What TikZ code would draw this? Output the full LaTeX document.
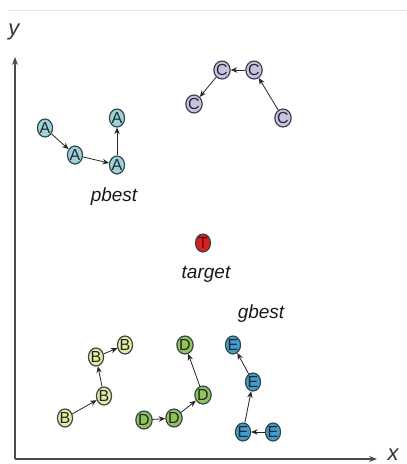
\documentclass[tikz,border=0pt]{standalone}
\usepackage{fontspec}
\setmainfont{Liberation Sans}
\usetikzlibrary{arrows.meta,shapes.geometric}
\definecolor{colA}{HTML}{9AD3DA}
\definecolor{colB}{HTML}{E4EDA2}
\definecolor{colC}{HTML}{C9C2E2}
\definecolor{colD}{HTML}{92C25C}
\definecolor{colE}{HTML}{3E9ECF}
\definecolor{colT}{HTML}{D8201E}
\definecolor{edgecol}{HTML}{34464A}
\begin{document}
\begin{tikzpicture}[x=1pt,y=-1pt,
  particle/.style={ellipse,draw=edgecol,line width=1.2pt,inner sep=0pt,
    minimum width=15pt,minimum height=18pt,text=black!85,
    font=\fontsize{16}{16}\selectfont},
  pa/.style={particle,fill=colA},
  pb/.style={particle,fill=colB},
  pc/.style={particle,fill=colC},
  pd/.style={particle,fill=colD},
  pe/.style={particle,fill=colE},
  pt/.style={particle,fill=colT,text=black!60!colT},
  move/.style={-{Stealth[length=6.5pt,width=5.5pt]},line width=0.8pt,draw=black!85},
  axis/.style={-{Stealth[length=8pt,width=6pt]},line width=1.1pt,draw=black!70},
  lbl/.style={font=\fontsize{19}{20}\selectfont\itshape,text=black!90},
  axlbl/.style={font=\fontsize{22}{22}\selectfont\itshape,text=black!80}]
\useasboundingbox (0,0) rectangle (407,464);
\coordinate (tl) at (8,10);
\coordinate (tr) at (407,10);
\draw[black!12,line width=0.8pt] (tl) -- (tr);
% axes
\coordinate (O) at (15,459);
\coordinate (Y) at (15,57);
\coordinate (X) at (377,459);
\draw[axis] (O) -- (Y);
\draw[axis] (O) -- (X);
\node[axlbl] (ylab) at (14,32) {y};
\node[axlbl] (xlab) at (393,455) {x};
% A
\node[pa] (A1) at (45,128) {A};
\node[pa] (A2) at (75,155) {A};
\node[pa] (A3) at (117,165) {A};
\node[pa] (A4) at (117,118) {A};
\draw[move] (A1) -- (A2);
\draw[move] (A2) -- (A3);
\draw[move] (A3) -- (A4);
\node[lbl] (pbest) at (114,197) {pbest};
% C
\node[pc] (C1) at (283,118) {C};
\node[pc] (C2) at (254,70) {C};
\node[pc] (C3) at (222,70) {C};
\node[pc] (C4) at (194,104) {C};
\draw[move] (C1) -- (C2);
\draw[move] (C2) -- (C3);
\draw[move] (C3) -- (C4);
% target
\node[pt] (T) at (203,243) {T};
\node[lbl] (target) at (206,274) {target};
\node[lbl] (gbest) at (261,314) {gbest};
% B
\node[pb] (B1) at (65,418) {B};
\node[pb] (B2) at (104,396) {B};
\node[pb] (B3) at (96,357) {B};
\node[pb] (B4) at (125,345) {B};
\draw[move] (B1) -- (B2);
\draw[move] (B2) -- (B3);
\draw[move] (B3) -- (B4);
% D
\node[pd] (D1) at (144,420) {D};
\node[pd] (D2) at (174,418) {D};
\node[pd] (D3) at (203,395) {D};
\node[pd] (D4) at (185,345) {D};
\draw[move] (D1) -- (D2);
\draw[move] (D2) -- (D3);
\draw[move] (D3) -- (D4);
% E
\node[pe] (E1) at (273,432) {E};
\node[pe] (E2) at (243,432) {E};
\node[pe] (E3) at (253,382) {E};
\node[pe] (E4) at (233,345) {E};
\draw[move] (E1) -- (E2);
\draw[move] (E2) -- (E3);
\draw[move] (E3) -- (E4);
\end{tikzpicture}
\end{document}
